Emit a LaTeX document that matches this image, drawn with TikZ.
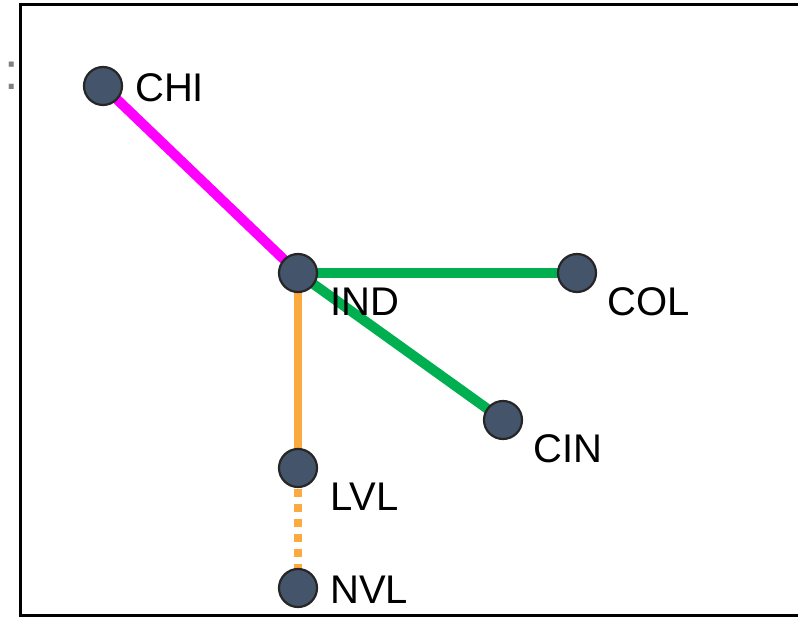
\documentclass[tikz,border=0pt]{standalone}
\usepackage{fontspec}
\setmainfont{Liberation Sans}
\usetikzlibrary{calc}
\definecolor{nodefill}{HTML}{44546A}
\definecolor{mag}{HTML}{FF00FF}
\definecolor{grn}{HTML}{00B050}
\definecolor{orng}{HTML}{FBAA3F}
\begin{document}
\begin{tikzpicture}[x=1pt,y=-1pt,
  stn/.style={circle,draw=black!85,line width=2.2pt,fill=nodefill,minimum size=38pt,inner sep=0pt},
  lbl/.style={anchor=west,inner sep=0pt,font=\fontsize{40}{44}\selectfont,text=black},
  frame/.style={line width=3pt,black},
  magline/.style={line width=10pt,mag},
  grnline/.style={line width=10pt,grn},
  orline/.style={line width=8pt,orng},
  ordot/.style={line width=8pt,orng,dash pattern=on 8pt off 7pt}]
\useasboundingbox (0,0) rectangle (798,617);
\fill[white] (0,0) rectangle (798,617);
% frame
\coordinate (ftr) at (800,5);
\coordinate (ftl) at (20,5);
\coordinate (fbl) at (20,615);
\coordinate (fbr) at (800,615);
\draw[frame] (ftr) -- (ftl) -- (fbl) -- (fbr);
% cut-off colon at left
\node[anchor=base,inner sep=0pt,font=\fontsize{52}{56}\selectfont,text=gray] (colon) at (12,90) {:};
% station positions
\coordinate (pCHI) at (103,86);
\coordinate (pIND) at (298,273);
\coordinate (pCOL) at (577,273);
\coordinate (pCIN) at (503,420);
\coordinate (pLVL) at (298,468);
\coordinate (pNVL) at (298,588);
% connectors
\draw[magline] (pCHI) -- (pIND);
\draw[grnline] (pIND) -- (pCOL);
\draw[grnline] (pIND) -- (pCIN);
\draw[orline] (pIND) -- (pLVL);
\draw[ordot] ($(pLVL)+(0,21)$) -- ($(pNVL)+(0,-19)$);
% stations
\node[stn] (CHI) at (pCHI) {};
\node[stn] (IND) at (pIND) {};
\node[stn] (COL) at (pCOL) {};
\node[stn] (CIN) at (pCIN) {};
\node[stn] (LVL) at (pLVL) {};
\node[stn] (NVL) at (pNVL) {};
% labels
\node[lbl] (CHIl) at ($(CHI)+(32,2)$) {CHI};
\node[lbl] (INDl) at ($(IND)+(32,29)$) {IND};
\node[lbl] (COLl) at ($(COL)+(30,29)$) {COL};
\node[lbl] (CINl) at ($(CIN)+(30,29)$) {CIN};
\node[lbl] (LVLl) at ($(LVL)+(32,29)$) {LVL};
\node[lbl] (NVLl) at ($(NVL)+(32,2)$) {NVL};
\end{tikzpicture}
\end{document}
